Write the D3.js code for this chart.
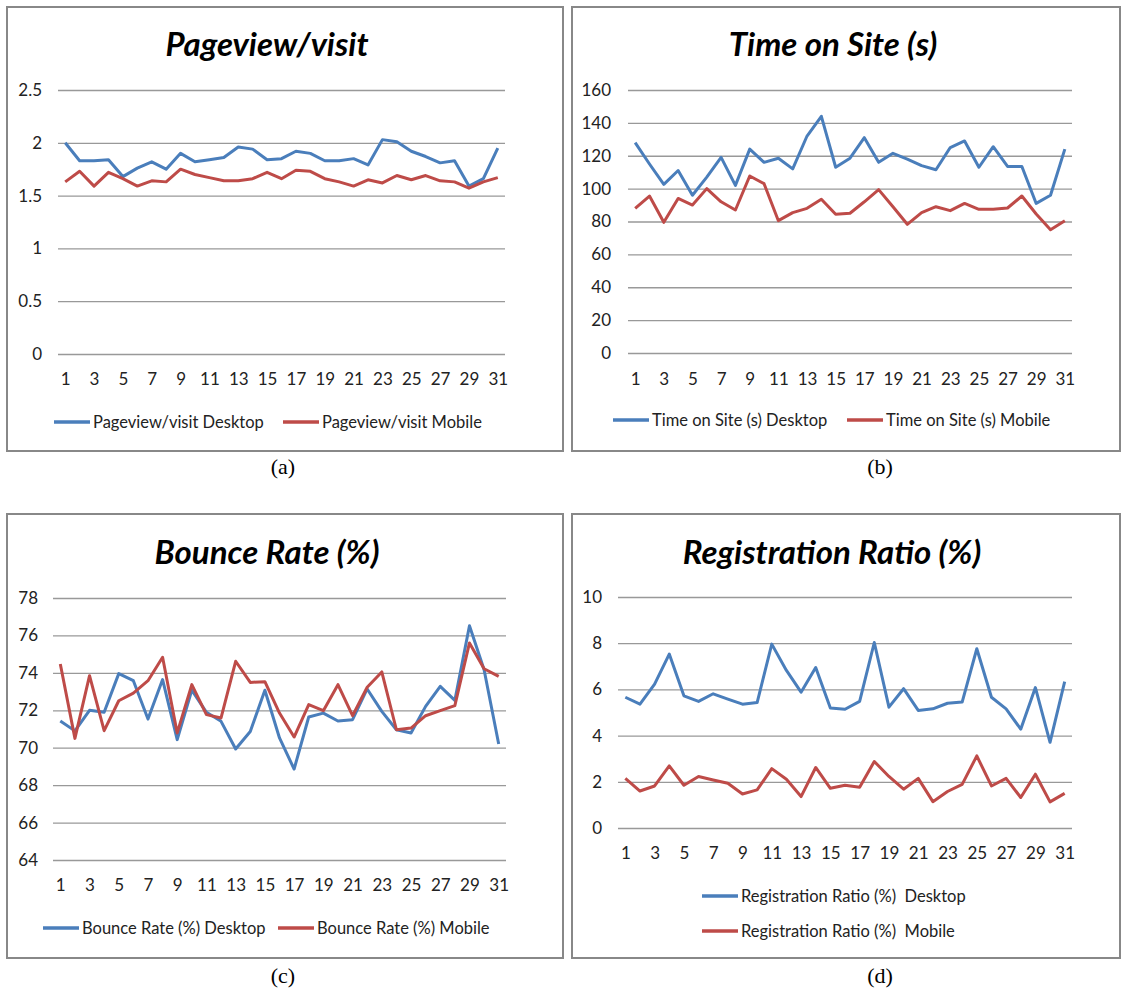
<!DOCTYPE html>
<meta charset="utf-8">
<style>
  body { margin: 0; background: #fff; }
  .tick text { font-family: Lato, "Open Sans", sans-serif; font-size: 17px; fill: #222; }
  .title { font-family: Lato, sans-serif; font-weight: bold; font-style: italic; font-size: 33px; fill: #000; }
  .legend text { font-family: Lato, "Open Sans", sans-serif; font-size: 16.5px; fill: #222; white-space: pre; }
  .caption { font-family: "Liberation Serif", "Times New Roman", serif; font-size: 22px; fill: #000; }
</style>
<body>
<svg width="1123" height="988"></svg>
<script src="https://cdn.jsdelivr.net/npm/d3@7"></script>
<script>
// days of the month
var days = d3.range(1, 32);
var dayLabels = days.filter(function (d) { return d % 2 === 1; });

// Pageview/visit
var pageviewDesktop = [2.00, 1.83, 1.83, 1.84, 1.68, 1.76, 1.82, 1.75, 1.90, 1.82, 1.84, 1.86, 1.96, 1.94, 1.84, 1.85,
  1.92, 1.90, 1.83, 1.83, 1.85, 1.79, 2.03, 2.01, 1.92, 1.87, 1.81, 1.83, 1.59, 1.66, 1.95];
var pageviewMobile = [1.63, 1.73, 1.59, 1.72, 1.66, 1.59, 1.64, 1.63, 1.75, 1.70, 1.67, 1.64, 1.64, 1.66, 1.72, 1.66,
  1.74, 1.73, 1.66, 1.63, 1.59, 1.65, 1.62, 1.69, 1.65, 1.69, 1.64, 1.63, 1.57, 1.63, 1.67];

// Time on Site (s)
var timeDesktop = [128, 115, 102.6, 111, 96, 107, 119, 102, 124, 116, 118.5, 112, 132, 144, 113, 118.5,
  131, 116, 121.5, 118, 114, 111.5, 125, 129, 113, 125.5, 113.5, 113.5, 91, 96, 124];
var timeMobile = [88, 95.5, 79.5, 94, 90, 100, 92, 87, 107.7, 103, 80.5, 85.4, 88, 93.5, 84.4, 85,
  92, 99.4, 89, 78.3, 85.4, 89, 86.6, 91, 87.4, 87.4, 88.2, 95.5, 84.6, 75, 80.5];

// Bounce Rate (%)
var bounceDesktop = [71.43, 70.9, 72.0, 71.89, 73.96, 73.58, 71.53, 73.64, 70.43, 73.08, 71.89, 71.41, 69.93, 70.87, 73.07, 70.52,
  68.86, 71.64, 71.85, 71.43, 71.5, 73.14, 71.94, 70.96, 70.79, 72.21, 73.28, 72.53, 76.52, 74.17, 70.2];
var bounceMobile = [74.47, 70.5, 73.85, 70.91, 72.51, 72.92, 73.58, 74.83, 70.79, 73.37, 71.77, 71.59, 74.62, 73.49, 73.53, 71.85,
  70.57, 72.3, 71.98, 73.37, 71.71, 73.23, 74.05, 70.96, 71.05, 71.71, 71.98, 72.25, 75.6, 74.22, 73.81];

// Registration Ratio (%)
var regDesktop = [5.66, 5.36, 6.23, 7.53, 5.72, 5.48, 5.81, 5.58, 5.36, 5.43, 7.96, 6.82, 5.88, 6.95, 5.19, 5.14,
  5.48, 8.03, 5.23, 6.03, 5.09, 5.16, 5.40, 5.45, 7.76, 5.66, 5.16, 4.28, 6.08, 3.71, 6.34];
var regMobile = [2.15, 1.60, 1.82, 2.69, 1.85, 2.23, 2.08, 1.94, 1.47, 1.65, 2.57, 2.11, 1.36, 2.62, 1.72, 1.85,
  1.76, 2.88, 2.23, 1.68, 2.15, 1.14, 1.58, 1.89, 3.12, 1.82, 2.15, 1.32, 2.33, 1.13, 1.50];

var blue = "#4a7ebb", red = "#be4b48";

// panel layout
var panels = [
  { title: "Pageview/visit", caption: "(a)", desktop: pageviewDesktop, mobile: pageviewMobile,
    names: ["Pageview/visit Desktop", "Pageview/visit Mobile"],
    domain: [0, 2.5], step: 0.5,
    box: [7, 7, 563, 451], plot: [58, 90, 505, 354], titleXY: [267, 56], labelGap: 16, xLabelY: 386,
    legend: [[54, 422], [283, 422]], captionXY: [283, 474] },
  { title: "Time on Site (s)", caption: "(b)", desktop: timeDesktop, mobile: timeMobile,
    names: ["Time on Site (s) Desktop", "Time on Site (s) Mobile"],
    domain: [0, 160], step: 20,
    box: [572, 7, 1120, 451], plot: [628, 90, 1072, 353], titleXY: [833, 56], labelGap: 17, xLabelY: 386,
    legend: [[613, 420], [847, 420]], captionXY: [880, 474] },
  { title: "Bounce Rate (%)", caption: "(c)", desktop: bounceDesktop, mobile: bounceMobile,
    names: ["Bounce Rate (%) Desktop", "Bounce Rate (%) Mobile"],
    domain: [64, 78], step: 2,
    box: [7, 514, 563, 958], plot: [53, 598, 506, 860], titleXY: [267, 564], labelGap: 15, xLabelY: 892,
    legend: [[43, 928], [278, 928]], captionXY: [283, 983] },
  { title: "Registration Ratio (%)", caption: "(d)", desktop: regDesktop, mobile: regMobile,
    names: ["Registration Ratio (%)  Desktop", "Registration Ratio (%)  Mobile"],
    domain: [0, 10], step: 2,
    box: [572, 514, 1120, 958], plot: [618, 597, 1072, 828], titleXY: [832, 564], labelGap: 16, xLabelY: 860,
    legend: [[702, 896], [702, 931]], captionXY: [880, 983] }
];

var svg = d3.select("svg");

panels.forEach(function (p) {
  var g = svg.append("g");

  // frame
  g.append("rect")
    .attr("x", p.box[0]).attr("y", p.box[1])
    .attr("width", p.box[2] - p.box[0]).attr("height", p.box[3] - p.box[1])
    .attr("fill", "#fff").attr("stroke", "#888").attr("stroke-width", 2);

  var x = d3.scalePoint().domain(days).range([p.plot[0], p.plot[2]]).padding(0.5);
  var y = d3.scaleLinear().domain(p.domain).range([p.plot[3], p.plot[1]]);
  var ticks = d3.range(p.domain[0], p.domain[1] + p.step / 2, p.step);

  // y axis: gridlines + labels
  var yAxis = d3.axisLeft(y).tickValues(ticks).tickFormat(function (v) { return String(v); })
    .tickSize(-(p.plot[2] - p.plot[0])).tickPadding(p.labelGap);
  g.append("g")
    .attr("transform", "translate(" + p.plot[0] + ",0)")
    .call(yAxis)
    .call(function (a) {
      a.select(".domain").remove();
      a.selectAll(".tick line").attr("stroke", "#999").attr("stroke-width", 1.3);
      a.selectAll(".tick text").attr("x", -p.labelGap);
    });

  // x axis labels (odd days)
  var xAxis = d3.axisBottom(x).tickValues(dayLabels).tickSize(0).tickPadding(0);
  g.append("g")
    .attr("transform", "translate(0," + (p.xLabelY - 13) + ")")
    .call(xAxis)
    .call(function (a) { a.select(".domain").remove(); });

  // series
  var line = d3.line()
    .x(function (d, i) { return x(days[i]); })
    .y(function (d) { return y(d); });

  g.append("path").datum(p.desktop)
    .attr("d", line).attr("fill", "none").attr("stroke", blue)
    .attr("stroke-width", 3).attr("stroke-linejoin", "round");
  g.append("path").datum(p.mobile)
    .attr("d", line).attr("fill", "none").attr("stroke", red)
    .attr("stroke-width", 3).attr("stroke-linejoin", "round");

  // title
  g.append("text").attr("class", "title")
    .attr("x", p.titleXY[0]).attr("y", p.titleXY[1])
    .attr("text-anchor", "middle").text(p.title);

  // legend
  var lg = g.append("g").attr("class", "legend");
  [blue, red].forEach(function (c, i) {
    var pos = p.legend[i];
    lg.append("line")
      .attr("x1", pos[0]).attr("x2", pos[0] + 36)
      .attr("y1", pos[1]).attr("y2", pos[1])
      .attr("stroke", c).attr("stroke-width", 3.5);
    lg.append("text")
      .attr("x", pos[0] + 39).attr("y", pos[1]).attr("dy", "0.35em")
      .text(p.names[i]);
  });

  // caption below the frame
  svg.append("text").attr("class", "caption")
    .attr("x", p.captionXY[0]).attr("y", p.captionXY[1])
    .attr("text-anchor", "middle").text(p.caption);
});
</script>
</body>
